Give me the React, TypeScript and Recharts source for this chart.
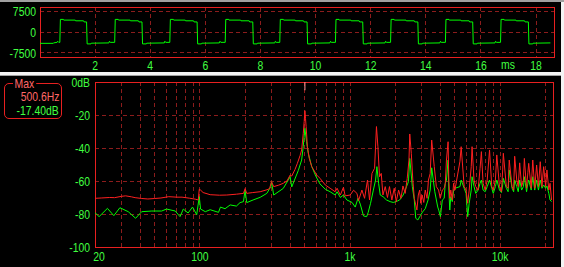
import { LineChart, Line, XAxis, YAxis, CartesianGrid, ReferenceArea, ReferenceLine } from "recharts";

// --- time domain (top panel) ---
const waveMs = [
  0, 0.48, 0.49, 0.62, 0.64, 0.68, 0.72,
  0.74, 0.85, 0.86, 1.28, 1.29, 1.58, 1.6, 1.69,
  1.71, 1.85, 1.86, 2.5, 2.52, 2.55, 2.71,
  2.73, 2.84, 2.85, 3.27, 3.28, 3.57, 3.59, 3.7,
  3.72, 3.86, 3.87, 4.51, 4.53, 4.56, 4.71,
  4.73, 4.84, 4.85, 5.27, 5.28, 5.57, 5.59, 5.7,
  5.72, 5.86, 5.87, 6.51, 6.53, 6.56, 6.72,
  6.74, 6.85, 6.86, 7.28, 7.29, 7.59, 7.61, 7.72,
  7.74, 7.88, 7.89, 8.52, 8.54, 8.57, 8.7,
  8.72, 8.83, 8.84, 9.26, 9.27, 9.56, 9.58, 9.69,
  9.71, 9.85, 9.86, 10.52, 10.54, 10.57, 10.72,
  10.74, 10.85, 10.86, 11.28, 11.29, 11.58, 11.6, 11.71,
  11.73, 11.87, 11.88, 12.52, 12.54, 12.57, 12.72,
  12.74, 12.85, 12.86, 13.28, 13.29, 13.58, 13.6, 13.71,
  13.73, 13.87, 13.88, 14.51, 14.53, 14.56, 14.71,
  14.73, 14.84, 14.85, 15.27, 15.28, 15.57, 15.59, 15.7,
  15.72, 15.86, 15.87, 16.51, 16.53, 16.56, 16.71,
  16.73, 16.84, 16.85, 17.27, 17.28, 17.58, 17.6, 17.72,
  17.74, 17.88, 17.89, 18.52,
];
const waveAmp = [
  -4050, -4050, -3900, -3700, -3300, -3700, -3700,
  4500, 4500, 4250, 4250, 4000, 4000, 3600, 3600,
  -4250, -4250, -4000, -3900, -3300, -3700, -3700,
  4500, 4500, 4250, 4250, 4000, 4000, 3600, 3600,
  -4250, -4250, -4000, -3900, -3300, -3700, -3700,
  4500, 4500, 4250, 4250, 4000, 4000, 3600, 3600,
  -4250, -4250, -4000, -3900, -3300, -3700, -3700,
  4500, 4500, 4250, 4250, 4000, 4000, 3600, 3600,
  -4250, -4250, -4000, -3900, -3300, -3700, -3700,
  4500, 4500, 4250, 4250, 4000, 4000, 3600, 3600,
  -4250, -4250, -4000, -3900, -3300, -3700, -3700,
  4500, 4500, 4250, 4250, 4000, 4000, 3600, 3600,
  -4250, -4250, -4000, -3900, -3300, -3700, -3700,
  4500, 4500, 4250, 4250, 4000, 4000, 3600, 3600,
  -4250, -4250, -4000, -3900, -3300, -3700, -3700,
  4500, 4500, 4250, 4250, 4000, 4000, 3600, 3600,
  -4250, -4250, -4000, -3900, -3300, -3700, -3700,
  4500, 4500, 4250, 4250, 4000, 4000, 3600, 3600,
  -4250, -4250, -4000, -3900,
];
const timeTicks = [2, 4, 6, 8, 10, 12, 14, 16, 18];
const ampTicks = [7500, 0, -7500];

// --- spectrum (bottom panel) ---
const maxHz = [
  20, 22, 25, 27, 30, 32, 35, 37, 41, 45, 50, 55, 62, 70, 76, 85, 93, 97.5, 99, 101, 105,
  117, 135, 151, 175, 195, 200, 205, 225, 252, 280, 291, 300, 310, 335, 359, 380, 399, 409,
  430, 446, 465, 476, 488, 495, 500.6, 505, 510, 520, 535, 556, 600, 631, 684, 737, 796, 820,
  862, 904, 928, 1002, 1056, 1112, 1140, 1200, 1250, 1308, 1349, 1400, 1457, 1500, 1534, 1572,
  1614, 1656, 1716, 1776, 1832, 1900, 1970, 2032, 2107, 2184, 2252, 2331, 2404, 2470, 2500,
  2560, 2620, 2680, 2790, 2850, 2910, 2960, 3020, 3100, 3170, 3260, 3330, 3420, 3500, 3640,
  3760, 3890, 3990, 4120, 4240, 4310, 4390, 4500, 4550, 4620, 4690, 4800, 4900, 5000, 5400,
  5500, 5760, 5930, 6080, 6220, 6420, 6500, 6700, 6880, 7130, 7350, 7500, 7700, 7950, 8200,
  8500, 8800, 9000, 9300, 9500, 9900, 10200, 10400, 10500, 11000, 11300, 11500, 12000, 12300,
  12500, 12900, 13200, 13500, 13900, 14300, 14500, 15000, 15300, 15500, 16100, 16500, 17000,
  17500, 18000, 18500, 19000, 19500, 20100, 20500, 21100, 21500, 22000,
];
const maxDb = [
  -70.5, -70.3, -70, -70.1, -69.3, -69, -69.6, -70.1, -70.6, -70.9, -70.6, -70.3, -69.5, -69.8, -69.8, -70.4, -71, -71.5, -65, -65.5, -67,
  -68.3, -68.6, -68.5, -68, -67.5, -64.6, -67.5, -67, -66.5, -65.3, -64.6, -60.4, -63.4, -62.5, -61.4, -60, -56.4, -57,
  -53, -49.3, -44.5, -41.2, -31.1, -24, -17.4, -22, -27, -39.2, -46.3, -51.3, -56.4, -58.4, -62.4, -64.4, -66.5, -64.4,
  -68.5, -63.8, -69, -68.5, -65.6, -67.5, -71.9, -65.5, -70.5, -59.4, -71.5, -55.4, -52.3, -27, -39.2, -57.4,
  -55.4, -68.5, -63.4, -70, -63.4, -71.5, -64.4, -72.5, -65.5, -70.5, -63, -67.5, -58.4, -47.3, -31.5,
  -43.2, -59.4, -70.5, -77.6, -68.5, -65.5, -73.5, -68.5, -73, -65.5, -70.5, -59.4, -55.4, -35.2, -51.3,
  -63.4, -65.5, -70.5, -65.5, -64.4, -61.4, -47.3, -36.2, -59.4, -70.5, -65.5, -71.5, -61.4, -65.5, -48,
  -39.2, -63.4, -65.5, -73.5, -65.5, -51.3, -39.2, -59.4, -63.4, -65.5, -52.3, -42.2, -61.4, -65.5, -59.4,
  -41.2, -63.4, -65.5, -59.4, -44.2, -63.4, -66.5, -53.3, -43.2, -63.4, -64.4, -47.3, -63.4, -65.5,
  -45, -59.4, -63.4, -49, -63.4, -59.4, -46.3, -64.4, -55, -49.3, -64.4, -47.3, -64.4,
  -50.3, -63.4, -48.3, -63.4, -51.3, -63.4, -53.3, -65.5, -61.4, -71.5,
];
const liveHz = [
  20, 21.3, 24.2, 26.7, 29.3, 33.3, 37.3, 40.9, 47.8, 55.6, 60, 68.5, 73.7, 77.5, 83.4, 89.3, 95.2, 99, 101, 108.6,
  117, 133, 137, 147, 159, 175, 185, 195, 200, 205, 226, 252, 279, 297, 300, 310, 359, 399, 409, 452, 476, 488,
  500, 513, 527, 556, 594, 631, 684, 737, 796, 820, 862, 904, 953, 1031, 1083, 1130, 1170, 1230, 1290, 1320,
  1370, 1430, 1480, 1510, 1550, 1590, 1660, 1750, 1850, 1940, 2030, 2140, 2260, 2380, 2450, 2500, 2600, 2680,
  2740, 2830, 2950, 3040, 3170, 3310, 3420, 3500, 3670, 3840, 3900, 4000, 4120, 4240, 4310, 4390, 4500, 4550,
  4620, 4690, 4800, 4900, 5000, 5400, 5500, 5760, 5930, 6080, 6220, 6420, 6500, 6700, 6880, 7130, 7350, 7500,
  7700, 7950, 8200, 8500, 8800, 9000, 9300, 9500, 9900, 10200, 10400, 10500, 11000, 11300, 11500, 12000, 12300,
  12500, 12900, 13200, 13500, 13900, 14300, 14500, 15000, 15300, 15500, 16100, 16500, 17000, 17500, 18000,
  18500, 19000, 19500, 20100, 20500, 21100, 21500, 22000,
];
const liveDb = [
  -79.2, -81.6, -76.6, -81, -76.2, -78.6, -82.6, -78.6, -78.2, -78.2, -77, -78.2, -81.6, -77, -79.4, -75.8, -80.4, -69.5, -77, -78.6,
  -77.4, -79, -75.8, -76.8, -74.5, -75.2, -73.1, -72.5, -65.5, -73.1, -71.5, -69.9, -67.5, -63.4, -60.4, -68.5, -64.5, -57.5, -63.6, -53.7, -47.3, -39,
  -28, -36, -43.2, -51.3, -57.4, -61.8, -65, -66.5, -68.5, -66.5, -70, -68.5, -71.5, -73, -75.8, -70.5, -74, -81.2, -81.6, -79.2,
  -73.5, -65.5, -59.4, -51.3, -61.4, -68.5, -69.5, -71.5, -72.5, -73, -72.5, -71.5, -68.5, -63.4, -60.4, -46.3, -63.4, -71.5,
  -82.6, -83.6, -80.8, -78.8, -76.8, -71.5, -65.5, -52, -66.5, -75.8, -77.6, -81.6, -71.5, -70.5, -61.4, -59.4, -47.3, -65.5,
  -77.6, -69.5, -72.5, -65.5, -64.4, -63.4, -59.4, -64.4, -67.5, -81.6, -73.5, -65.5, -57.4, -63.4, -67.5, -65.5, -61.4, -59.4,
  -65.5, -66.5, -63.4, -59.4, -64.4, -67.5, -63.4, -59.4, -65.5, -67, -62.4, -58.4, -64.4, -66.5, -53.3, -64.4, -66.5,
  -59.4, -63.4, -66.5, -59.4, -65.5, -63.4, -57.4, -66.5, -61.4, -59.4, -65.5, -57.4, -65.5, -59.4, -65.5,
  -59.4, -64.4, -62.4, -64.4, -63, -67.5, -71.5, -72.5,
];
const freqTicks = [
  20, 30, 40, 50, 60, 70, 80, 90, 100, 200, 300, 400, 500, 600, 700, 800, 900,
  1000, 2000, 3000, 4000, 5000, 6000, 7000, 8000, 9000, 10000, 20000,
];
const dbTicks = [0, -20, -40, -60, -80, -100];
const peakHz = 500.6;
const peakDb = -17.4;

const wave = waveMs.map((t, i) => ({ t, v: waveAmp[i] }));
const maxSeries = maxHz.map((hz, i) => ({ hz, db: maxDb[i] }));
const liveSeries = liveHz.map((hz, i) => ({ hz, db: liveDb[i] }));

const GREEN = "#00ff00";
const LABEL = "#40ff40";
const RED = "#ff2020";
const FRAME = "#e82020";
const GRID = "#8c1c1c";
const PINK = "#ff6868";
const FONT = "'Liberation Sans', Arial, sans-serif";
const SQUEEZE = 0.8;

// narrow, tall lettering like the analyzer's bitmap font
function NarrowText({ x, y, dy, anchor, children }: any) {
  return (
    <text transform={`translate(${x},${y}) scale(${SQUEEZE},1)`} dy={dy} textAnchor={anchor}
      fill={LABEL} fontSize={13} fontFamily={FONT}>
      {children}
    </text>
  );
}

const TimeTick = ({ x, y, payload }: any) => (
  <NarrowText x={x} y={y} dy={13} anchor="middle">{payload.value}</NarrowText>
);
const AmpTick = ({ x, y, payload }: any) => (
  <NarrowText x={x} y={y} dy={4.7} anchor="end">{payload.value}</NarrowText>
);
const DbTick = ({ x, y, payload }: any) => (
  <NarrowText x={x} y={y} dy={4.7} anchor="end">{payload.value === 0 ? "0dB" : payload.value}</NarrowText>
);

const freqLabel = (v: number) =>
  v === 20 ? "20" : v === 100 ? "100" : v === 1000 ? "1k" : v === 10000 ? "10k" : "";

function FreqTick({ x, y, payload }: any) {
  const label = freqLabel(payload.value);
  if (!label) return <g />;
  return (
    <NarrowText x={x + (payload.value === 20 ? 4 : 0)} y={y} dy={14} anchor="middle">{label}</NarrowText>
  );
}

const squeezeRight = { transform: `scaleX(${SQUEEZE})`, transformOrigin: "right center", whiteSpace: "nowrap" as const };

export default function App() {
  return (
    <div style={{ position: "absolute", left: 0, top: 0, width: 564, height: 267, background: "#f4f4f4", overflow: "hidden", fontFamily: FONT }}>
      <div style={{ position: "absolute", left: 0, top: 0, width: 564, height: 2, background: "#a0a0a0" }} />
      <div style={{ position: "absolute", left: 0, top: 2, width: 561, height: 70, background: "#000" }}>
        <LineChart width={561} height={70} data={wave} margin={{ top: 5, right: 7, bottom: 0, left: 0 }}>
          <CartesianGrid stroke={GRID} strokeDasharray="4 3" shapeRendering="crispEdges" />
          <XAxis dataKey="t" type="number" domain={[0, 18.65]} ticks={timeTicks} interval={0} allowDataOverflow
            height={15} tickSize={0} tickMargin={0} axisLine={false} tick={<TimeTick />} />
          <YAxis type="number" domain={[-8930, 8930]} ticks={ampTicks} interval={0} allowDataOverflow
            width={40} tickSize={0} tickMargin={4} axisLine={false} tick={<AmpTick />} />
          <ReferenceArea x1={0} x2={18.65} y1={-8930} y2={8930} fill="none" stroke={FRAME} strokeOpacity={1} shapeRendering="crispEdges" />
          <Line dataKey="v" stroke={GREEN} strokeWidth={1} dot={false} isAnimationActive={false} />
        </LineChart>
        <span style={{ position: "absolute", left: 501, top: 56, color: LABEL, fontSize: 13, lineHeight: "13px", transform: `scaleX(${SQUEEZE})`, transformOrigin: "left center" }}>ms</span>
      </div>
      <div style={{ position: "absolute", left: 0, top: 75, width: 561, height: 1, background: "#a0a0a0" }} />
      <div style={{ position: "absolute", left: 0, top: 76, width: 561, height: 191, background: "#000" }}>
        <LineChart width={561} height={191} margin={{ top: 6, right: 8, bottom: 0, left: 0 }}>
          <CartesianGrid stroke={GRID} strokeDasharray="4 3" shapeRendering="crispEdges" />
          <XAxis dataKey="hz" type="number" scale="log" domain={[20, 22500]} ticks={freqTicks} interval={0} allowDataOverflow
            height={20} tickSize={0} tickMargin={0} axisLine={false} tick={<FreqTick />} />
          <YAxis type="number" domain={[-100, 0]} ticks={dbTicks} interval={0} allowDataOverflow
            width={95} tickSize={0} tickMargin={5} axisLine={false} tick={<DbTick />} />
          <ReferenceArea x1={20} x2={22500} y1={-100} y2={0} fill="none" stroke={FRAME} strokeOpacity={1} shapeRendering="crispEdges" />
          <ReferenceLine segment={[{ x: peakHz, y: 0 }, { x: peakHz, y: -5 }]} stroke="#ff9a9a" />
          <Line data={liveSeries} dataKey="db" stroke={GREEN} strokeWidth={1} dot={false} isAnimationActive={false} />
          <Line data={maxSeries} dataKey="db" stroke={RED} strokeWidth={1} dot={false} isAnimationActive={false} />
        </LineChart>
        <div style={{ position: "absolute", left: 4, top: 7, width: 56, height: 34, border: `1px solid ${FRAME}`, borderRadius: 5, fontSize: 13, lineHeight: "13px" }}>
          <span style={{ position: "absolute", left: 8, top: -7, background: "#000", padding: "0 2px", color: PINK, transform: `scaleX(${SQUEEZE})`, transformOrigin: "left center" }}>Max</span>
          <div style={{ position: "absolute", right: 2, top: 6, color: PINK, ...squeezeRight }}>{peakHz}Hz</div>
          <div style={{ position: "absolute", right: 2, top: 20, color: LABEL, ...squeezeRight }}>{peakDb.toFixed(2)}dB</div>
        </div>
      </div>
    </div>
  );
}
